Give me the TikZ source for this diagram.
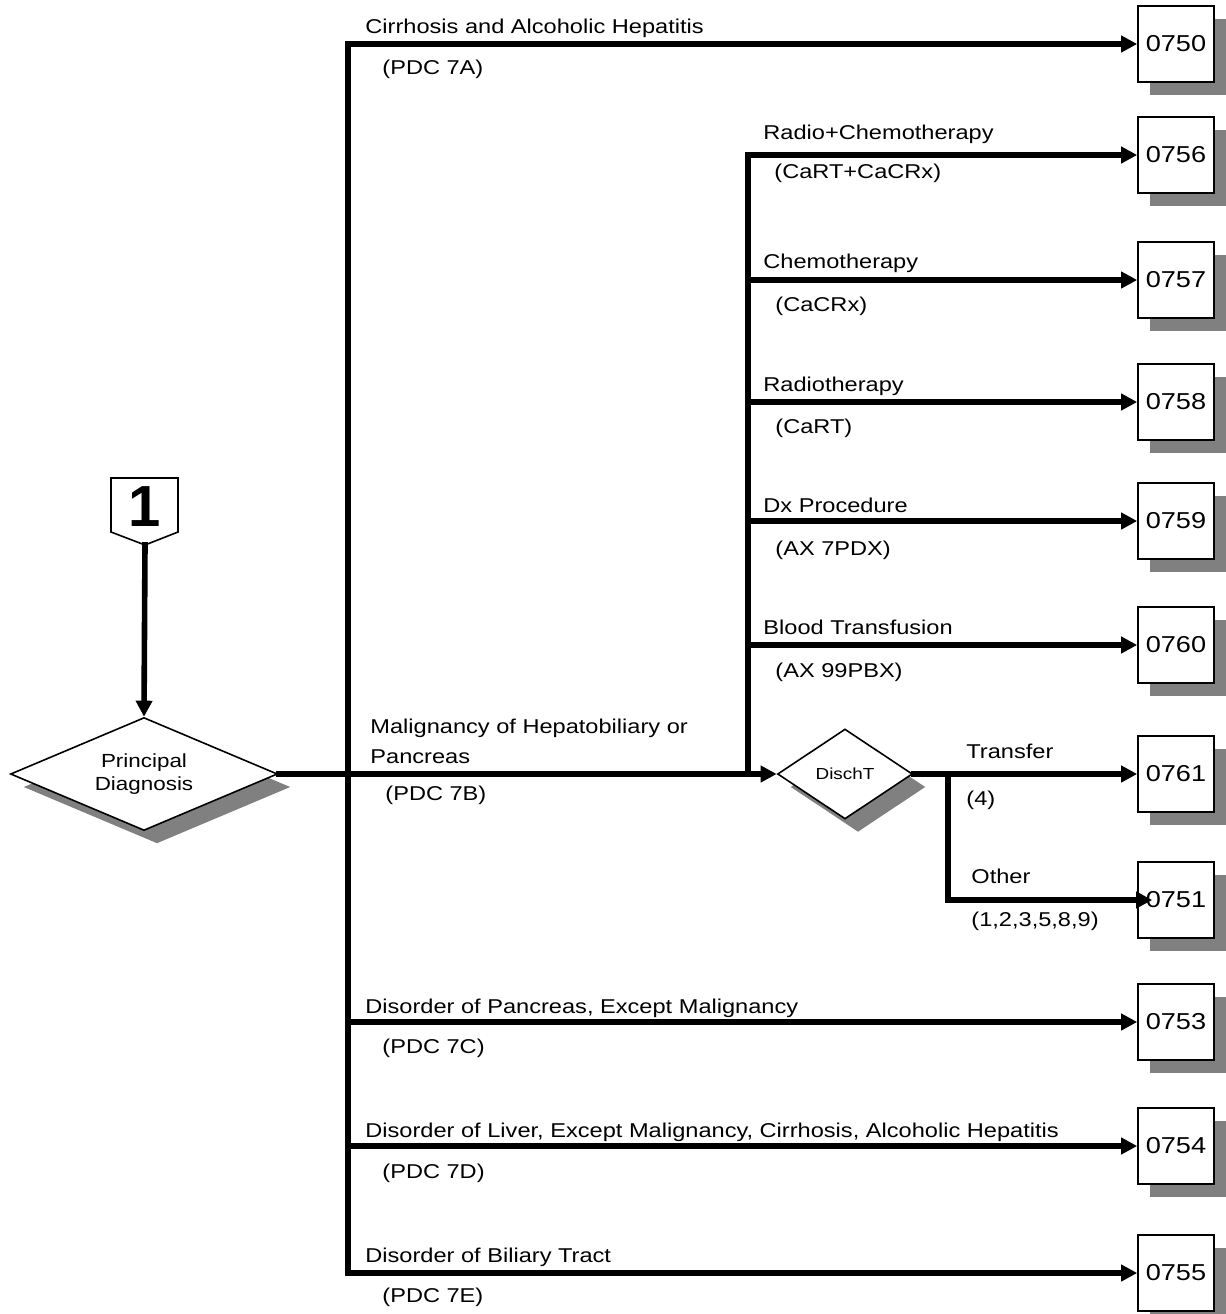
\documentclass[tikz,border=0pt]{standalone}
\usepackage{fontspec}
\setmainfont{Liberation Sans}[FakeStretch=1.18]
\usepackage{tikz}
\usetikzlibrary{arrows.meta,shapes.geometric,shadows}

\begin{document}
\begin{tikzpicture}[x=0.5pt, y=-0.5pt,
		wire/.style={line width=2.8pt, line cap=rect},
		flow/.style={wire, -{Triangle[length=8pt,width=8pt]}},
		lbl/.style={anchor=base west, inner sep=0pt, font=\fontsize{10}{12}\selectfont},
		code/.style={draw, line width=0.8pt, fill=white, minimum width=38pt, minimum height=38pt,
			inner sep=0pt, font=\fontsize{11.5}{13}\selectfont,
			general shadow={fill=black!50, shadow xshift=6pt, shadow yshift=-6.5pt}},
		test/.style={diamond, draw, line width=0.8pt, fill=white, inner sep=0pt, align=center,
			general shadow={fill=black!50, shadow xshift=6.5pt, shadow yshift=-6.5pt}}]
			%%%%% START %%%%%
			\useasboundingbox (0, 0) rectangle (1226, 1314);
			
			% entry marker
			\draw[line width=0.8pt] (111, 478) -- (178, 478) -- (178, 532) -- (145, 545) -- (111, 532) -- cycle;
			\node[font=\fontsize{29}{30}\bfseries\addfontfeature{FakeStretch=1.0}] (n1) at (145, 507) {1};
			\coordinate (n1tip) at (145, 545);
			
			% decisions
			\node[test, aspect=2.36, minimum width=133.5pt, minimum height=56.5pt, font=\fontsize{9.5}{11.5}\selectfont] (pd) at (144, 774) {Principal\\Diagnosis};
			\node[test, aspect=1.5, minimum width=67.5pt, minimum height=45pt, font=\fontsize{8}{10}\selectfont] (dt) at (845, 774) {DischT};
			
			% end groups
			\node[code] (b0750) at (1176, 44) {0750};
			\node[code] (b0756) at (1176, 155) {0756};
			\node[code] (b0757) at (1176, 280) {0757};
			\node[code] (b0758) at (1176, 402) {0758};
			\node[code] (b0759) at (1176, 521) {0759};
			\node[code] (b0760) at (1176, 645) {0760};
			\node[code] (b0761) at (1176, 774) {0761};
			\node[code] (b0751) at (1176, 900) {0751};
			\node[code] (b0753) at (1176, 1022) {0753};
			\node[code] (b0754) at (1176, 1146) {0754};
			\node[code] (b0755) at (1176, 1273) {0755};
			
			% trunk lines
			\coordinate (tTop) at (348, 44);
			\coordinate (tBot) at (348, 1273);
			\coordinate (mTop) at (748, 155);
			\coordinate (mBot) at (748, 774);
			\coordinate (oTop) at (948, 774);
			\coordinate (oBot) at (948, 900);
			
			\draw[flow] (n1tip) -- (pd.north);
			\draw[flow] (pd.east) -- (dt.west);
			\draw[flow] (tBot) -- (tTop) -- (b0750.west);
			\draw[flow] (tTop |- b0753) -- (b0753.west);
			\draw[flow] (tTop |- b0754) -- (b0754.west);
			\draw[flow] (tBot) -- (b0755.west);
			
			\draw[flow] (mBot) -- (mTop) -- (b0756.west);
			\draw[flow] (mTop |- b0757) -- (b0757.west);
			\draw[flow] (mTop |- b0758) -- (b0758.west);
			\draw[flow] (mTop |- b0759) -- (b0759.west);
			\draw[flow] (mTop |- b0760) -- (b0760.west);
			
			\draw[flow] (dt.east) -- (b0761.west);
			\draw[flow] (oTop) -- (oBot) -- ([xshift=7.5pt]b0751.west);
			
			% branch labels
			\node[lbl] (lCirr) at (365, 33) {Cirrhosis and Alcoholic Hepatitis};
			\node[lbl] (cCirr) at (382, 74) {(PDC 7A)};
			\node[lbl] (lRadChem) at (763, 139) {Radio+Chemotherapy};
			\node[lbl] (cRadChem) at (774, 178) {(CaRT+CaCRx)};
			\node[lbl] (lChem) at (763, 268) {Chemotherapy};
			\node[lbl] (cChem) at (775, 311) {(CaCRx)};
			\node[lbl] (lRad) at (763, 391) {Radiotherapy};
			\node[lbl] (cRad) at (775, 433) {(CaRT)};
			\node[lbl] (lDx) at (763, 512) {Dx Procedure};
			\node[lbl] (cDx) at (775, 555) {(AX 7PDX)};
			\node[lbl] (lBlood) at (763, 634) {Blood Transfusion};
			\node[lbl] (cBlood) at (775, 677) {(AX 99PBX)};
			\node[lbl] (lMalig) at (370, 733) {Malignancy of Hepatobiliary or};
			\node[lbl] (lMalig2) at (370, 763) {Pancreas};
			\node[lbl] (cMalig) at (385, 800) {(PDC 7B)};
			\node[lbl] (lTrans) at (966, 758) {Transfer};
			\node[lbl] (cTrans) at (966, 805) {(4)};
			\node[lbl] (lOther) at (971, 883) {Other};
			\node[lbl] (cOther) at (971, 926) {(1,2,3,5,8,9)};
			\node[lbl] (lPanc) at (365, 1013) {Disorder of Pancreas, Except Malignancy};
			\node[lbl] (cPanc) at (382, 1053) {(PDC 7C)};
			\node[lbl] (lLiver) at (365, 1137) {Disorder of Liver, Except Malignancy, Cirrhosis, Alcoholic Hepatitis};
			\node[lbl] (cLiver) at (382, 1178) {(PDC 7D)};
			\node[lbl] (lBil) at (365, 1262) {Disorder of Biliary Tract};
			\node[lbl] (cBil) at (382, 1302) {(PDC 7E)};
			
			%%%%% END %%%%%
		\end{tikzpicture}
\end{document}
